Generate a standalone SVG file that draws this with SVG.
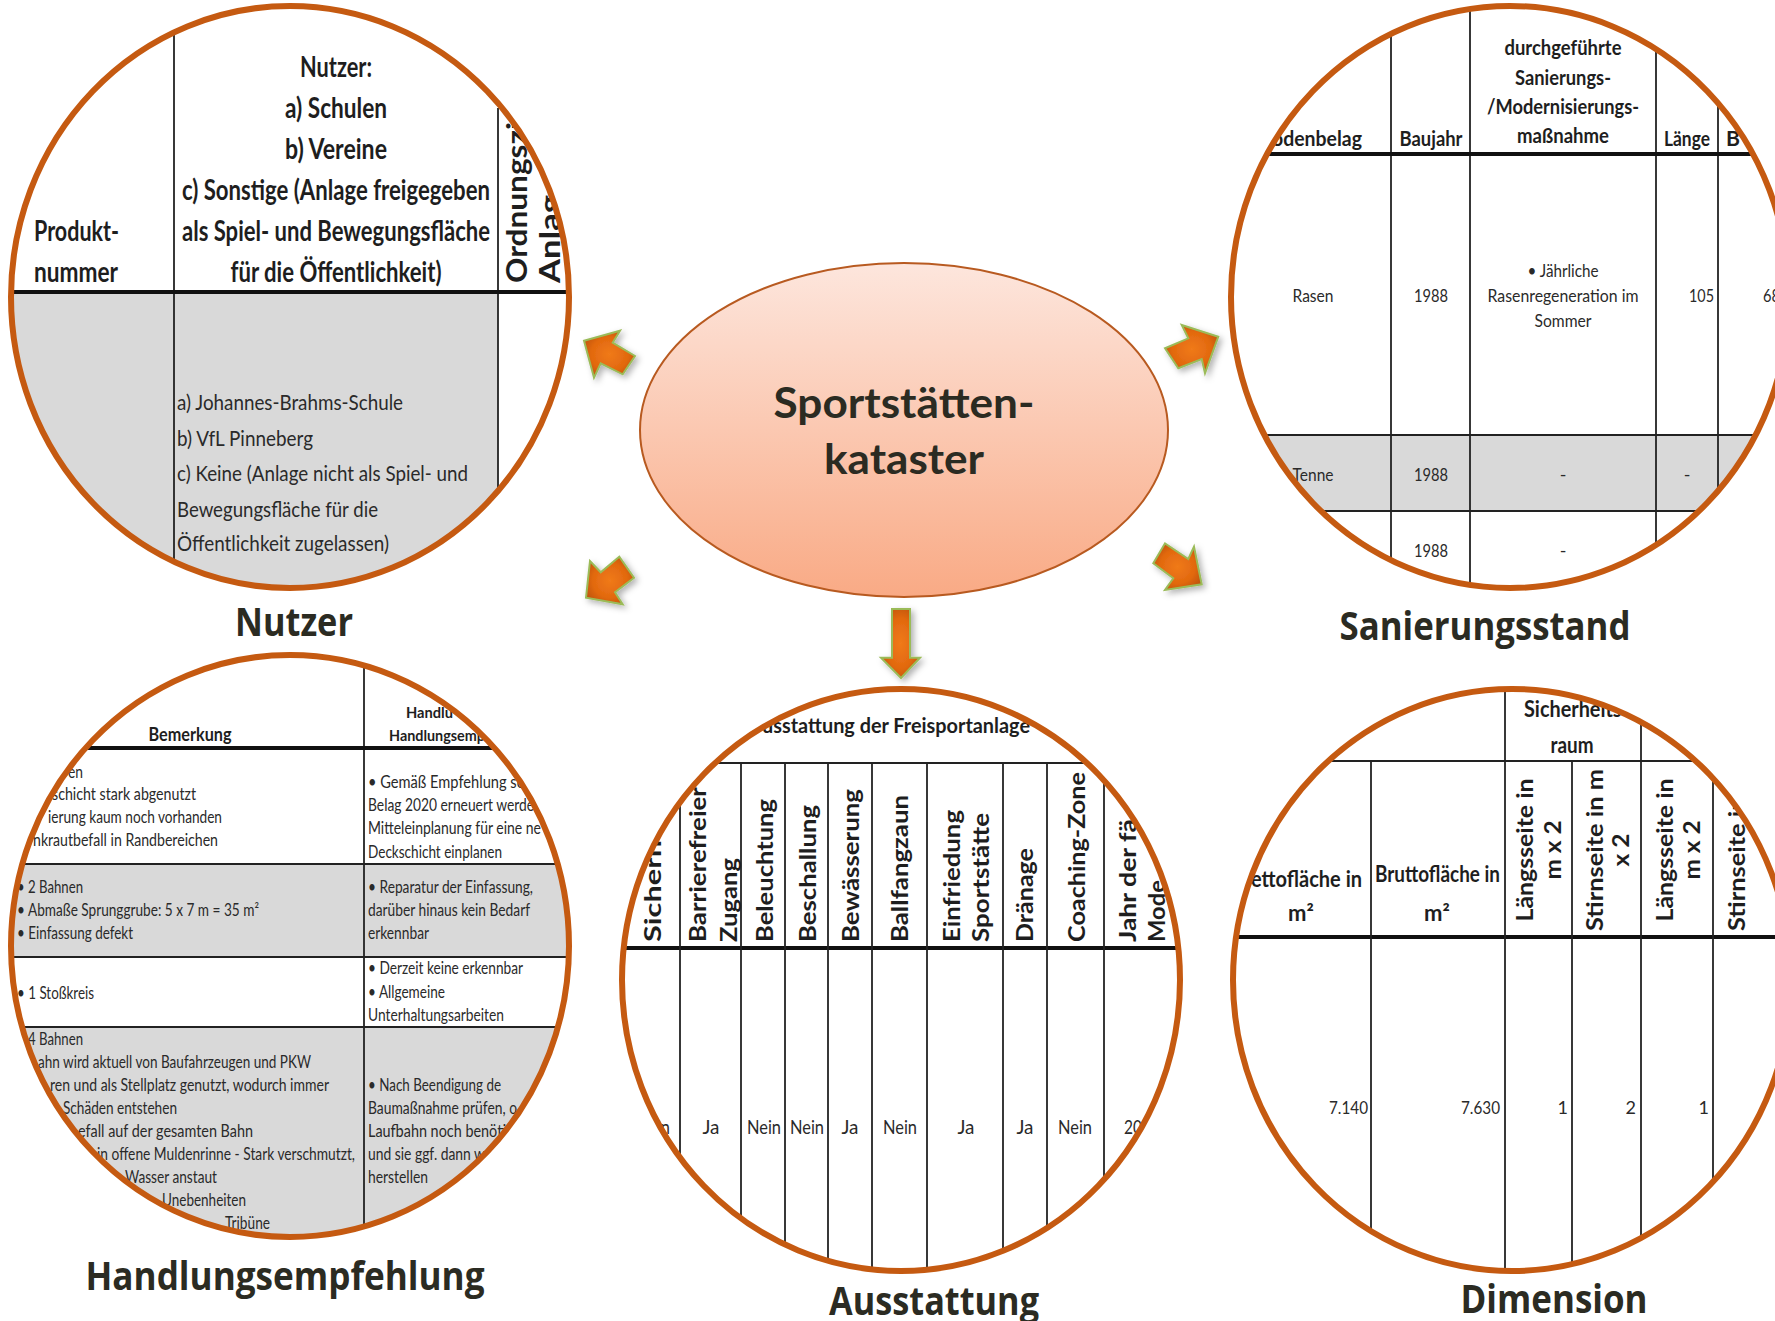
<svg xmlns="http://www.w3.org/2000/svg" width="1775" height="1321" viewBox="0 0 1775 1321">
<style>
.tb{font-family:Lato,"Liberation Sans",sans-serif;font-weight:700;fill:#1e1e1e}
.tn{font-family:Lato,"Liberation Sans",sans-serif;font-weight:400;fill:#2a2a2a}
.lbl{font-family:"Open Sans","Liberation Sans",sans-serif;font-weight:700;font-size:39px;fill:#2b2b22;text-anchor:middle}
.ctr{font-family:Lato,"Liberation Sans",sans-serif;font-weight:700;font-size:42px;fill:#2b2b22;text-anchor:middle}
.ln{stroke:#222;stroke-width:1.8}
.hl{stroke:#111;stroke-width:4}
.ring{fill:none;stroke:#C55A11;stroke-width:6}
.grey{fill:#D9D9D9}
.arrow{fill:url(#ag);stroke:#9BBB59;stroke-width:2;stroke-linejoin:miter;filter:url(#sh)}
.m{text-anchor:middle}
.e{text-anchor:end}
</style>
<defs>
<linearGradient id="eg" x1="0" y1="0" x2="0" y2="1">
<stop offset="0" stop-color="#FDE6DD"/>
<stop offset="1" stop-color="#F9AA85"/>
</linearGradient>
<radialGradient id="ag" cx="0.5" cy="0.5" r="0.6">
<stop offset="0" stop-color="#F07A1A"/>
<stop offset="0.6" stop-color="#E2690F"/>
<stop offset="1" stop-color="#BC520C"/>
</radialGradient>
<filter id="sh" x="-30%" y="-30%" width="160%" height="160%">
<feDropShadow dx="3" dy="3" stdDeviation="3" flood-color="#000" flood-opacity="0.3"/>
</filter>
<clipPath id="cN"><ellipse cx="290" cy="297" rx="279" ry="291"/></clipPath>
<clipPath id="cS"><ellipse cx="1510" cy="297" rx="279" ry="291"/></clipPath>
<clipPath id="cH"><ellipse cx="290" cy="946" rx="279" ry="291"/></clipPath>
<clipPath id="cA"><ellipse cx="901" cy="980" rx="279" ry="291"/></clipPath>
<clipPath id="cD"><ellipse cx="1512" cy="980" rx="279" ry="291"/></clipPath>
</defs>
<rect width="1775" height="1321" fill="#fff"/>

<g id="node-center">
<ellipse cx="904" cy="430" rx="264" ry="167" fill="url(#eg)" stroke="#B85A20" stroke-width="2"/>
<text class="ctr" x="904" y="418" textLength="261" lengthAdjust="spacingAndGlyphs">Sportstätten-</text>
<text class="ctr" x="904" y="474" textLength="160" lengthAdjust="spacingAndGlyphs">kataster</text>
</g>

<g id="connectors">
<polygon class="arrow" points="584,340.7 620,330.7 612.7,342.7 635,356 622.7,374.3 600.7,363.3 594,377.7"/>
<polygon class="arrow" points="586,597.7 590,561 600.7,572.3 619.3,556.7 634,577.7 615,592.3 622.7,604.3"/>
<polygon class="arrow" points="1218.3,336.7 1181.7,325 1188.3,338.3 1165,348.3 1178.3,368.3 1201.7,359 1205,373.3"/>
<polygon class="arrow" points="1201.7,584.3 1194,546.7 1188.3,559 1165,543.3 1153.3,563.3 1173.3,578.3 1165,590"/>
<polygon class="arrow" points="892,609 910,609 910,657.7 920,657.7 901,678 881,657.7 892,657.7"/>
</g>

<g id="node-nutzer">
<g clip-path="url(#cN)">
<rect class="grey" x="0" y="294" width="498" height="310"/>
<line class="ln" x1="174" y1="0" x2="174" y2="600"/>
<line class="ln" x1="498" y1="108" x2="498" y2="600"/>
<line class="hl" x1="0" y1="292" x2="580" y2="292"/>
<g class="tb" font-size="28">
<text class="m" x="336" y="77" textLength="72" lengthAdjust="spacingAndGlyphs">Nutzer:</text>
<text class="m" x="336" y="118" textLength="102" lengthAdjust="spacingAndGlyphs">a) Schulen</text>
<text class="m" x="336" y="159" textLength="102" lengthAdjust="spacingAndGlyphs">b) Vereine</text>
<text class="m" x="336" y="200" textLength="308" lengthAdjust="spacingAndGlyphs">c) Sonstige (Anlage freigegeben</text>
<text class="m" x="336" y="241" textLength="308" lengthAdjust="spacingAndGlyphs">als Spiel- und Bewegungsfläche</text>
<text class="m" x="336" y="282" textLength="211" lengthAdjust="spacingAndGlyphs">für die Öffentlichkeit)</text>
<text x="34" y="241" textLength="85" lengthAdjust="spacingAndGlyphs">Produkt-</text>
<text x="34" y="282" textLength="84" lengthAdjust="spacingAndGlyphs">nummer</text>
<text transform="translate(527,283) rotate(-90)" textLength="161" lengthAdjust="spacingAndGlyphs">Ordnungszi</text>
<text transform="translate(560,283) rotate(-90)" textLength="88" lengthAdjust="spacingAndGlyphs">Anlag</text>
</g>
<g class="tn" font-size="21">
<text x="177" y="410" textLength="226" lengthAdjust="spacingAndGlyphs">a) Johannes-Brahms-Schule</text>
<text x="177" y="446" textLength="136" lengthAdjust="spacingAndGlyphs">b) VfL Pinneberg</text>
<text x="177" y="481" textLength="291" lengthAdjust="spacingAndGlyphs">c) Keine (Anlage nicht als Spiel- und</text>
<text x="177" y="517" textLength="201" lengthAdjust="spacingAndGlyphs">Bewegungsfläche für die</text>
<text x="177" y="551" textLength="212" lengthAdjust="spacingAndGlyphs">Öffentlichkeit zugelassen)</text>
</g>
</g>
<ellipse class="ring" cx="290" cy="297" rx="279" ry="291"/>
<text class="lbl" x="294" y="636" textLength="118" lengthAdjust="spacingAndGlyphs">Nutzer</text>
</g>

<g id="node-sanierungsstand">
<g clip-path="url(#cS)">
<rect class="grey" x="1200" y="436" width="600" height="75"/>
<line class="ln" x1="1391" y1="0" x2="1391" y2="600"/>
<line class="ln" x1="1470" y1="0" x2="1470" y2="600"/>
<line class="ln" x1="1656" y1="0" x2="1656" y2="600"/>
<line class="ln" x1="1718" y1="0" x2="1718" y2="600"/>
<line class="hl" x1="1200" y1="154" x2="1800" y2="154"/>
<line class="ln" x1="1200" y1="435" x2="1800" y2="435" stroke-width="3"/>
<line class="ln" x1="1200" y1="511" x2="1800" y2="511"/>
<g class="tb" font-size="21">
<text class="e" x="1362" y="146" textLength="90" lengthAdjust="spacingAndGlyphs">odenbelag</text>
<text class="m" x="1431" y="146" textLength="63" lengthAdjust="spacingAndGlyphs">Baujahr</text>
<text class="m" x="1563" y="55" textLength="117" lengthAdjust="spacingAndGlyphs">durchgeführte</text>
<text class="m" x="1563" y="85" textLength="96" lengthAdjust="spacingAndGlyphs">Sanierungs-</text>
<text class="m" x="1563" y="114" textLength="152" lengthAdjust="spacingAndGlyphs">/Modernisierungs-</text>
<text class="m" x="1563" y="143" textLength="92" lengthAdjust="spacingAndGlyphs">maßnahme</text>
<text class="m" x="1687" y="146" textLength="46" lengthAdjust="spacingAndGlyphs">Länge</text>
<text x="1726" y="146" textLength="14" lengthAdjust="spacingAndGlyphs">B</text>
</g>
<g class="tn" font-size="18">
<text class="m" x="1313" y="302" textLength="41" lengthAdjust="spacingAndGlyphs">Rasen</text>
<text class="m" x="1431" y="302" textLength="34" lengthAdjust="spacingAndGlyphs">1988</text>
<text class="m" x="1563" y="277" textLength="71" lengthAdjust="spacingAndGlyphs">• Jährliche</text>
<text class="m" x="1563" y="302" textLength="151" lengthAdjust="spacingAndGlyphs">Rasenregeneration im</text>
<text class="m" x="1563" y="327" textLength="57" lengthAdjust="spacingAndGlyphs">Sommer</text>
<text class="e" x="1714" y="302" textLength="25" lengthAdjust="spacingAndGlyphs">105</text>
<text x="1763" y="302" textLength="17" lengthAdjust="spacingAndGlyphs">68</text>
<text class="m" x="1313" y="481" textLength="41" lengthAdjust="spacingAndGlyphs">Tenne</text>
<text class="m" x="1431" y="481" textLength="34" lengthAdjust="spacingAndGlyphs">1988</text>
<text class="m" x="1563" y="481">-</text>
<text class="m" x="1687" y="481">-</text>
<text class="m" x="1431" y="557" textLength="34" lengthAdjust="spacingAndGlyphs">1988</text>
<text class="m" x="1563" y="557">-</text>
</g>
</g>
<ellipse class="ring" cx="1510" cy="297" rx="279" ry="291"/>
<text class="lbl" x="1485" y="640" textLength="291" lengthAdjust="spacingAndGlyphs">Sanierungsstand</text>
</g>

<g id="node-handlungsempfehlung">
<g clip-path="url(#cH)">
<rect class="grey" x="0" y="865" width="600" height="92"/>
<rect class="grey" x="0" y="1028" width="600" height="230"/>
<line class="ln" x1="364" y1="640" x2="364" y2="1250"/>
<line class="hl" x1="0" y1="748" x2="600" y2="748"/>
<line class="ln" x1="0" y1="864" x2="600" y2="864"/>
<line class="ln" x1="0" y1="957" x2="600" y2="957" stroke-width="3"/>
<line class="ln" x1="0" y1="1027" x2="600" y2="1027"/>
<g class="tb">
<text class="m" x="190" y="741" font-size="19" textLength="83" lengthAdjust="spacingAndGlyphs">Bemerkung</text>
<text x="406" y="718" font-size="15" textLength="47" lengthAdjust="spacingAndGlyphs">Handlu</text>
<text x="389" y="741" font-size="15" textLength="96" lengthAdjust="spacingAndGlyphs">Handlungsemp</text>
</g>
<g class="tn" font-size="17">
<text x="68" y="778" textLength="15" lengthAdjust="spacingAndGlyphs">en</text>
<text x="52" y="800" textLength="144" lengthAdjust="spacingAndGlyphs">schicht stark abgenutzt</text>
<text x="48" y="823" textLength="174" lengthAdjust="spacingAndGlyphs">ierung kaum noch vorhanden</text>
<text x="33" y="846" textLength="185" lengthAdjust="spacingAndGlyphs">nkrautbefall in Randbereichen</text>
<text x="17" y="893" textLength="66" lengthAdjust="spacingAndGlyphs">• 2 Bahnen</text>
<text x="17" y="916" textLength="242" lengthAdjust="spacingAndGlyphs">• Abmaße Sprunggrube: 5 x 7 m = 35 m²</text>
<text x="17" y="939" textLength="116" lengthAdjust="spacingAndGlyphs">• Einfassung defekt</text>
<text x="17" y="999" textLength="77" lengthAdjust="spacingAndGlyphs">• 1 Stoßkreis</text>
<text x="28" y="1045" textLength="55" lengthAdjust="spacingAndGlyphs">4 Bahnen</text>
<text x="38" y="1068" textLength="273" lengthAdjust="spacingAndGlyphs">ahn wird aktuell von Baufahrzeugen und PKW</text>
<text x="50" y="1091" textLength="279" lengthAdjust="spacingAndGlyphs">ren und als Stellplatz genutzt, wodurch immer</text>
<text x="63" y="1114" textLength="114" lengthAdjust="spacingAndGlyphs">Schäden entstehen</text>
<text x="78" y="1137" textLength="175" lengthAdjust="spacingAndGlyphs">efall auf der gesamten Bahn</text>
<text x="97" y="1160" textLength="258" lengthAdjust="spacingAndGlyphs">in offene Muldenrinne - Stark verschmutzt,</text>
<text x="125" y="1183" textLength="92" lengthAdjust="spacingAndGlyphs">Wasser anstaut</text>
<text x="162" y="1206" textLength="84" lengthAdjust="spacingAndGlyphs">Unebenheiten</text>
<text x="225" y="1229" textLength="45" lengthAdjust="spacingAndGlyphs">Tribüne</text>
<text x="368" y="788" textLength="157" lengthAdjust="spacingAndGlyphs">• Gemäß Empfehlung so</text>
<text x="368" y="811" textLength="166" lengthAdjust="spacingAndGlyphs">Belag 2020 erneuert werde</text>
<text x="368" y="834" textLength="173" lengthAdjust="spacingAndGlyphs">Mitteleinplanung für eine ne</text>
<text x="368" y="858" textLength="134" lengthAdjust="spacingAndGlyphs">Deckschicht einplanen</text>
<text x="368" y="893" textLength="165" lengthAdjust="spacingAndGlyphs">• Reparatur der Einfassung,</text>
<text x="368" y="916" textLength="162" lengthAdjust="spacingAndGlyphs">darüber hinaus kein Bedarf</text>
<text x="368" y="939" textLength="61" lengthAdjust="spacingAndGlyphs">erkennbar</text>
<text x="368" y="974" textLength="155" lengthAdjust="spacingAndGlyphs">• Derzeit keine erkennbar</text>
<text x="368" y="998" textLength="77" lengthAdjust="spacingAndGlyphs">• Allgemeine</text>
<text x="368" y="1021" textLength="136" lengthAdjust="spacingAndGlyphs">Unterhaltungsarbeiten</text>
<text x="368" y="1091" textLength="133" lengthAdjust="spacingAndGlyphs">• Nach Beendigung de</text>
<text x="368" y="1114" textLength="149" lengthAdjust="spacingAndGlyphs">Baumaßnahme prüfen, o</text>
<text x="368" y="1137" textLength="138" lengthAdjust="spacingAndGlyphs">Laufbahn noch benöti</text>
<text x="368" y="1160" textLength="117" lengthAdjust="spacingAndGlyphs">und sie ggf. dann w</text>
<text x="368" y="1183" textLength="60" lengthAdjust="spacingAndGlyphs">herstellen</text>
</g>
</g>
<ellipse class="ring" cx="290" cy="946" rx="279" ry="291"/>
<text class="lbl" x="285" y="1290" textLength="399" lengthAdjust="spacingAndGlyphs">Handlungsempfehlung</text>
</g>

<g id="node-ausstattung">
<g clip-path="url(#cA)">
<line class="ln" x1="600" y1="763" x2="1200" y2="763"/>
<line class="hl" x1="600" y1="948" x2="1200" y2="948"/>
<line class="ln" x1="680" y1="763" x2="680" y2="1280"/>
<line class="ln" x1="741" y1="763" x2="741" y2="1280"/>
<line class="ln" x1="785" y1="763" x2="785" y2="1280"/>
<line class="ln" x1="828" y1="763" x2="828" y2="1280"/>
<line class="ln" x1="872" y1="763" x2="872" y2="1280"/>
<line class="ln" x1="927" y1="763" x2="927" y2="1280"/>
<line class="ln" x1="1003" y1="763" x2="1003" y2="1280"/>
<line class="ln" x1="1047" y1="763" x2="1047" y2="1280"/>
<line class="ln" x1="1104" y1="763" x2="1104" y2="1280"/>
<g class="tb">
<text x="762" y="733" font-size="20" textLength="268" lengthAdjust="spacingAndGlyphs">usstattung der Freisportanlage</text>
<g font-size="22">
<text transform="translate(661,942) rotate(-90)" textLength="102" lengthAdjust="spacingAndGlyphs">Sicherh</text>
<text transform="translate(706,942) rotate(-90)" textLength="155" lengthAdjust="spacingAndGlyphs">Barrierefreier</text>
<text transform="translate(737,942) rotate(-90)" textLength="84" lengthAdjust="spacingAndGlyphs">Zugang</text>
<text transform="translate(773,942) rotate(-90)" textLength="143" lengthAdjust="spacingAndGlyphs">Beleuchtung</text>
<text transform="translate(816,942) rotate(-90)" textLength="137" lengthAdjust="spacingAndGlyphs">Beschallung</text>
<text transform="translate(859,942) rotate(-90)" textLength="153" lengthAdjust="spacingAndGlyphs">Bewässerung</text>
<text transform="translate(908,942) rotate(-90)" textLength="147" lengthAdjust="spacingAndGlyphs">Ballfangzaun</text>
<text transform="translate(960,942) rotate(-90)" textLength="132" lengthAdjust="spacingAndGlyphs">Einfriedung</text>
<text transform="translate(989,942) rotate(-90)" textLength="129" lengthAdjust="spacingAndGlyphs">Sportstätte</text>
<text transform="translate(1033,942) rotate(-90)" textLength="94" lengthAdjust="spacingAndGlyphs">Dränage</text>
<text transform="translate(1085,942) rotate(-90)" textLength="170" lengthAdjust="spacingAndGlyphs">Coaching-Zone</text>
<text transform="translate(1136,942) rotate(-90)" textLength="123" lengthAdjust="spacingAndGlyphs">Jahr der fä</text>
<text transform="translate(1165,942) rotate(-90)" textLength="62" lengthAdjust="spacingAndGlyphs">Mode</text>
</g>
</g>
<g class="tn" font-size="19">
<text class="e" x="670" y="1134" textLength="34" lengthAdjust="spacingAndGlyphs">Nein</text>
<text class="m" x="711" y="1134" textLength="17" lengthAdjust="spacingAndGlyphs">Ja</text>
<text class="m" x="764" y="1134" textLength="34" lengthAdjust="spacingAndGlyphs">Nein</text>
<text class="m" x="807" y="1134" textLength="34" lengthAdjust="spacingAndGlyphs">Nein</text>
<text class="m" x="850" y="1134" textLength="17" lengthAdjust="spacingAndGlyphs">Ja</text>
<text class="m" x="900" y="1134" textLength="34" lengthAdjust="spacingAndGlyphs">Nein</text>
<text class="m" x="966" y="1134" textLength="17" lengthAdjust="spacingAndGlyphs">Ja</text>
<text class="m" x="1025" y="1134" textLength="17" lengthAdjust="spacingAndGlyphs">Ja</text>
<text class="m" x="1075" y="1134" textLength="34" lengthAdjust="spacingAndGlyphs">Nein</text>
<text x="1124" y="1134" textLength="18" lengthAdjust="spacingAndGlyphs">20</text>
</g>
</g>
<ellipse class="ring" cx="901" cy="980" rx="279" ry="291"/>
<text class="lbl" x="934" y="1315" textLength="210" lengthAdjust="spacingAndGlyphs">Ausstattung</text>
</g>

<g id="node-dimension">
<g clip-path="url(#cD)">
<line class="ln" x1="1220" y1="761" x2="1800" y2="761"/>
<line class="hl" x1="1220" y1="937" x2="1800" y2="937"/>
<line class="ln" x1="1371" y1="761" x2="1371" y2="1280"/>
<line class="ln" x1="1505" y1="680" x2="1505" y2="1280"/>
<line class="ln" x1="1572" y1="761" x2="1572" y2="1280"/>
<line class="ln" x1="1641" y1="680" x2="1641" y2="1280"/>
<line class="ln" x1="1713" y1="761" x2="1713" y2="1280"/>
<g class="tb" font-size="22">
<text x="1524" y="717" textLength="105" lengthAdjust="spacingAndGlyphs">Sicherheits-</text>
<text class="m" x="1572" y="753" textLength="43" lengthAdjust="spacingAndGlyphs">raum</text>
<text x="1251" y="887" textLength="111" lengthAdjust="spacingAndGlyphs">ettofläche in</text>
<text class="m" x="1301" y="921">m²</text>
<text x="1375" y="882" textLength="125" lengthAdjust="spacingAndGlyphs">Bruttofläche in</text>
<text class="m" x="1437" y="921">m²</text>
<text class="m" transform="translate(1533,850) rotate(-90)" textLength="143" lengthAdjust="spacingAndGlyphs">Längsseite in</text>
<text class="m" transform="translate(1561,850) rotate(-90)" textLength="59" lengthAdjust="spacingAndGlyphs">m x 2</text>
<text class="m" transform="translate(1603,850) rotate(-90)" textLength="162" lengthAdjust="spacingAndGlyphs">Stirnseite in m</text>
<text class="m" transform="translate(1629,850) rotate(-90)" textLength="33" lengthAdjust="spacingAndGlyphs">x 2</text>
<text class="m" transform="translate(1673,850) rotate(-90)" textLength="143" lengthAdjust="spacingAndGlyphs">Längsseite in</text>
<text class="m" transform="translate(1700,850) rotate(-90)" textLength="59" lengthAdjust="spacingAndGlyphs">m x 2</text>
<text class="m" transform="translate(1745,850) rotate(-90)" textLength="162" lengthAdjust="spacingAndGlyphs">Stirnseite in m</text>
</g>
<g class="tn" font-size="18">
<text class="e" x="1368" y="1114" textLength="39" lengthAdjust="spacingAndGlyphs">7.140</text>
<text class="e" x="1500" y="1114" textLength="39" lengthAdjust="spacingAndGlyphs">7.630</text>
<text class="e" x="1568" y="1114">1</text>
<text class="e" x="1636" y="1114">2</text>
<text class="e" x="1709" y="1114">1</text>
</g>
</g>
<ellipse class="ring" cx="1512" cy="980" rx="279" ry="291"/>
<text class="lbl" x="1554" y="1313" textLength="187" lengthAdjust="spacingAndGlyphs">Dimension</text>
</g>
</svg>
